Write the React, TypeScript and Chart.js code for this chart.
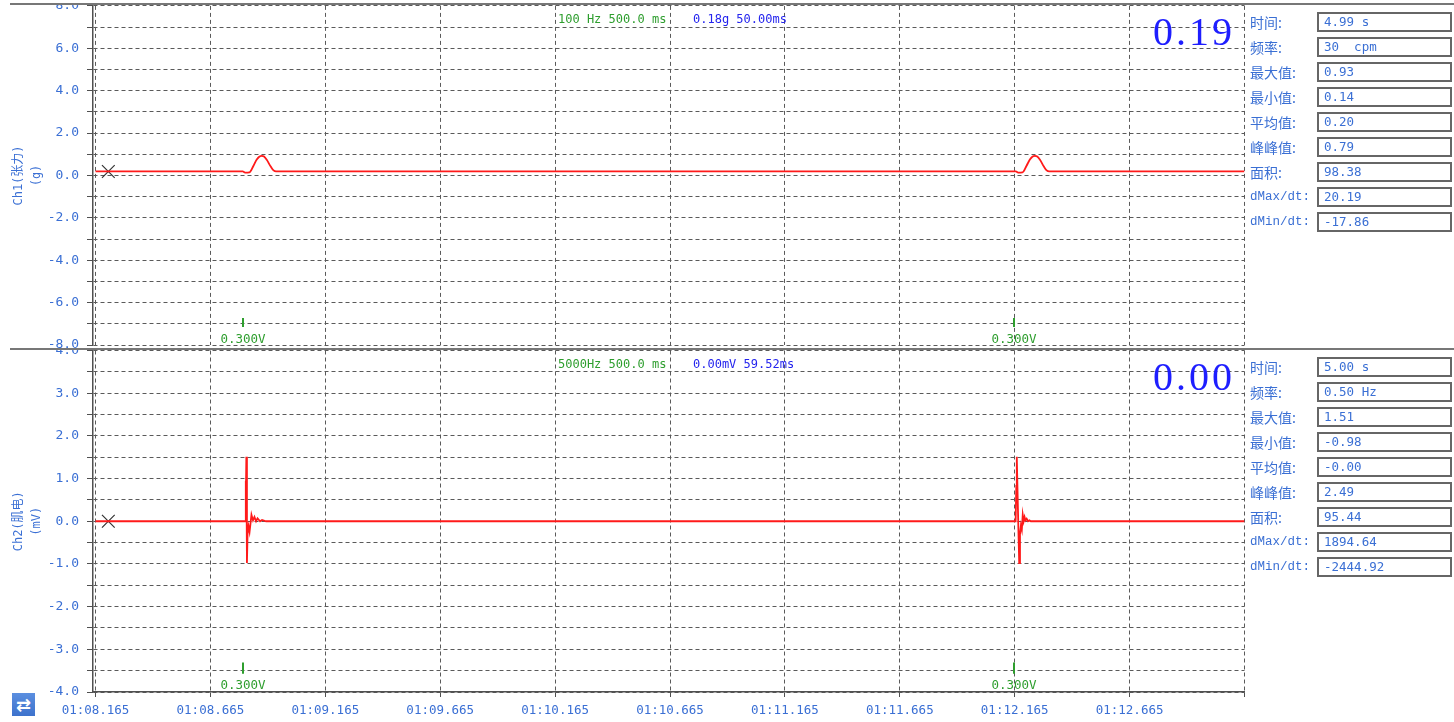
import React, { useEffect, useRef } from 'react';
import { Chart, registerables } from 'chart.js';

Chart.register(...registerables);

// ---------- data ----------
const xTickValues = [68.165, 68.665, 69.165, 69.665, 70.165, 70.665, 71.165, 71.665, 72.165, 72.665, 73.165];
const xTickLabels = ['01:08.165', '01:08.665', '01:09.165', '01:09.665', '01:10.165', '01:10.665', '01:11.165', '01:11.665', '01:12.165', '01:12.665', ''];
const X_MIN = 68.154;
const X_MAX = 73.165;

const ch1Times = [
  68.165, 68.8057, 68.8157, 68.8344, 68.8518, 68.8666, 68.8788, 68.8884, 68.8984, 68.9101, 68.9275, 68.9397, 68.9506,
  72.17, 72.18, 72.199, 72.216, 72.231, 72.243, 72.253, 72.263, 72.275, 72.292, 72.304, 72.315, 73.165,
];
const ch1Values = [
  0.19, 0.19, 0.14, 0.15, 0.45, 0.75, 0.9, 0.93, 0.9, 0.74, 0.42, 0.24, 0.19,
  0.19, 0.14, 0.15, 0.45, 0.75, 0.9, 0.93, 0.9, 0.74, 0.42, 0.24, 0.19, 0.19,
];

const ch2Times = [
  68.165, 68.8165, 68.8183, 68.8196, 68.8213, 68.8239, 68.8266, 68.8309, 68.8353, 68.8436, 68.8503, 68.8566, 68.8636, 68.8701, 68.881, 68.8897, 68.9071,
  72.169, 72.172, 72.1735, 72.1746, 72.179, 72.1846, 72.188, 72.192, 72.196, 72.2, 72.204, 72.208, 72.212, 72.217, 72.223, 72.229, 72.235, 73.165,
];
const ch2Values = [
  0, 0, 0.95, 0.5, 1.51, -0.98, -0.3, -0.12, -0.25, 0.15, 0.02, 0.1, 0.0, 0.07, 0.0, 0.03, 0,
  0, 0.85, 0.45, 1.51, 0.3, -0.98, -0.3, -0.1, -0.2, 0.15, 0.0, 0.1, 0.02, 0.06, 0.0, 0.02, 0, 0,
];

const ch1YTickValues = [8, 7, 6, 5, 4, 3, 2, 1, 0, -1, -2, -3, -4, -5, -6, -7, -8];
const ch1YTickLabels = ['8.0', '', '6.0', '', '4.0', '', '2.0', '', '0.0', '', '-2.0', '', '-4.0', '', '-6.0', '', '-8.0'];
const ch2YTickValues = [4, 3.5, 3, 2.5, 2, 1.5, 1, 0.5, 0, -0.5, -1, -1.5, -2, -2.5, -3, -3.5, -4];
const ch2YTickLabels = ['4.0', '', '3.0', '', '2.0', '', '1.0', '', '0.0', '', '-1.0', '', '-2.0', '', '-3.0', '', '-4.0'];

const cursorTimes = [68.2207];
const ch1CursorValues = [0.19];
const ch2CursorValues = [0];

const markerTimes = [68.8083, 72.1628];
const markerLabel = '0.300V';

const statLabels = ['时间:', '频率:', '最大值:', '最小值:', '平均值:', '峰峰值:', '面积:', 'dMax/dt:', 'dMin/dt:'];
const ch1StatValues = ['4.99 s', '30  cpm', '0.93', '0.14', '0.20', '0.79', '98.38', '20.19', '-17.86'];
const ch2StatValues = ['5.00 s', '0.50 Hz', '1.51', '-0.98', '-0.00', '2.49', '95.44', '1894.64', '-2444.92'];

const ch1HeaderLeft = '100 Hz 500.0 ms';
const ch1HeaderRight = '0.18g 50.00ms';
const ch2HeaderLeft = '5000Hz 500.0 ms';
const ch2HeaderRight = '0.00mV 59.52ms';
const ch1BigValue = '0.19';
const ch2BigValue = '0.00';

// ---------- styles ----------
const BLUE = '#3a6fd4';
const GREEN = '#2e9e2e';
const GRID = '#5a5a5a';
const AXIS = '#505050';
const RED = '#ff1a1a';
const MONO = '"DejaVu Sans Mono", "Noto Sans CJK SC", monospace';

type ChannelProps = {
  times: number[];
  values: number[];
  yTickValues: number[];
  yTickLabels: string[];
  yMin: number;
  yMax: number;
  title: string[];
  cursorValues: number[];
  markerBar: [number, number];
  markerTextValue: number;
  showXLabels: boolean;
  smooth: boolean;
  canvasTop: number;
  canvasWidth: number;
  canvasHeight: number;
  padTop: number;
  padBottom: number;
  xAxisHeight: number;
};

function ChannelChart(p: ChannelProps) {
  const ref = useRef<HTMLCanvasElement | null>(null);
  useEffect(() => {
    if (!ref.current) return;
    const markerPlugin = {
      id: 'markers',
      afterDatasetsDraw(chart: any) {
        const { ctx, scales } = chart;
        const xs = scales.x;
        const ys = scales.y;
        ctx.save();
        markerTimes.forEach((t) => {
          const px = Math.round(xs.getPixelForValue(t));
          ctx.strokeStyle = GREEN;
          ctx.lineWidth = 2;
          ctx.beginPath();
          ctx.moveTo(px, ys.getPixelForValue(p.markerBar[0]));
          ctx.lineTo(px, ys.getPixelForValue(p.markerBar[1]));
          ctx.stroke();
          ctx.fillStyle = GREEN;
          ctx.font = '12.5px ' + MONO;
          ctx.textAlign = 'center';
          ctx.textBaseline = 'middle';
          ctx.fillText(markerLabel, px, ys.getPixelForValue(p.markerTextValue));
        });
        ctx.restore();
      },
    };
    const chart = new Chart(ref.current, {
      type: 'line',
      data: {
        datasets: [
          {
            data: p.times.map((t, i) => ({ x: t, y: p.values[i] })),
            borderColor: RED,
            borderWidth: 1.8,
            pointRadius: 0,
            fill: false,
            tension: 0,
            cubicInterpolationMode: p.smooth ? 'monotone' : 'default',
          },
          {
            data: cursorTimes.map((t, i) => ({ x: t, y: p.cursorValues[i] })),
            showLine: false,
            pointStyle: 'crossRot',
            pointRadius: 9,
            borderColor: '#333333',
            borderWidth: 1.2,
            backgroundColor: 'rgba(0,0,0,0)',
          },
        ],
      } as any,
      options: {
        responsive: false,
        animation: false,
        devicePixelRatio: 1,
        events: [],
        layout: { padding: { left: 0, right: p.canvasWidth - 1244.5, top: p.padTop, bottom: p.padBottom } },
        plugins: { legend: { display: false }, tooltip: { enabled: false } },
        scales: {
          x: {
            type: 'linear',
            min: X_MIN,
            max: X_MAX,
            afterBuildTicks: (s: any) => {
              s.ticks = xTickValues.map((v) => ({ value: v }));
            },
            afterFit: (s: any) => {
              s.height = p.xAxisHeight;
            },
            ticks: {
              display: p.showXLabels,
              callback: (_v: any, i: number) => xTickLabels[i] ?? '',
              color: BLUE,
              font: { family: MONO, size: 12.5 },
              padding: 6,
              maxRotation: 0,
              minRotation: 0,
              autoSkip: false,
            },
            grid: {
              color: GRID,
              lineWidth: 1,
              drawTicks: p.showXLabels,
              tickLength: 5,
              tickColor: AXIS,
              tickWidth: 1,
              tickBorderDash: [],
            },
            border: { display: p.showXLabels, color: AXIS, width: 1.5, dash: [4, 3] },
          },
          y: {
            type: 'linear',
            min: p.yMin,
            max: p.yMax,
            afterBuildTicks: (s: any) => {
              s.ticks = p.yTickValues.map((v) => ({ value: v }));
            },
            afterFit: (s: any) => {
              s.width = 93;
            },
            ticks: {
              callback: (_v: any, i: number) => p.yTickLabels[i] ?? '',
              color: BLUE,
              font: { family: MONO, size: 13 },
              padding: 8,
              autoSkip: false,
            },
            grid: {
              color: GRID,
              lineWidth: 1,
              tickLength: 6,
              tickColor: AXIS,
              tickWidth: 1,
              tickBorderDash: [],
            },
            border: { color: AXIS, width: 1.5, dash: [4, 3] },
            title: {
              display: true,
              text: p.title,
              color: BLUE,
              font: { family: MONO, size: 12, lineHeight: '18px' },
              padding: { top: 10, bottom: 0 },
            },
          },
        },
      } as any,
      plugins: [markerPlugin as any],
    });
    return () => chart.destroy();
  }, []);
  return (
    <canvas
      ref={ref}
      width={p.canvasWidth}
      height={p.canvasHeight}
      style={{ position: 'absolute', left: 0, top: p.canvasTop, width: p.canvasWidth, height: p.canvasHeight }}
    />
  );
}

function StatsPanel({ top, values }: { top: number; values: string[] }) {
  return (
    <>
      {statLabels.map((label, i) => {
        const isLatin = label.startsWith('d');
        return (
          <div key={i} style={{ position: 'absolute', left: 0, top: top + i * 25, width: 1454, height: 20 }}>
            <div
              style={{
                position: 'absolute',
                left: 1250,
                top: 0,
                height: 20,
                lineHeight: '20px',
                fontFamily: isLatin ? '"Liberation Mono", monospace' : '"Noto Sans CJK SC", sans-serif',
                fontSize: isLatin ? 12.5 : 14,
                color: BLUE,
                whiteSpace: 'pre',
              }}
            >
              {label}
            </div>
            <div
              style={{
                position: 'absolute',
                left: 1317,
                top: 0,
                width: 135,
                height: 20,
                boxSizing: 'border-box',
                border: '2px solid #666',
                background: '#fff',
                paddingLeft: 5,
                lineHeight: '16px',
                fontFamily: MONO,
                fontSize: 12.5,
                color: BLUE,
                whiteSpace: 'pre',
              }}
            >
              {values[i]}
            </div>
          </div>
        );
      })}
    </>
  );
}

export default function App() {
  const headerStyle = (left: number, top: number, color: string): React.CSSProperties => ({
    position: 'absolute',
    left,
    top,
    fontFamily: MONO,
    fontSize: 12,
    lineHeight: '14px',
    color,
    whiteSpace: 'pre',
  });
  const bigStyle = (top: number): React.CSSProperties => ({
    position: 'absolute',
    left: 1153,
    top,
    fontFamily: '"Liberation Serif", serif',
    fontSize: 40,
    lineHeight: '40px',
    letterSpacing: 3,
    color: '#1e1eff',
    whiteSpace: 'pre',
  });
  return (
    <div style={{ position: 'absolute', left: 0, top: 0, width: 1454, height: 722, overflow: 'hidden', background: '#fff' }}>
      {/* top channel */}
      <div style={{ position: 'absolute', left: 0, top: 4, width: 1454, height: 344, overflow: 'hidden' }}>
        <ChannelChart
          times={ch1Times}
          values={ch1Values}
          yTickValues={ch1YTickValues}
          yTickLabels={ch1YTickLabels}
          yMin={-8}
          yMax={8}
          title={['Ch1(张力)', '(g)']}
          cursorValues={ch1CursorValues}
          markerBar={[-6.72, -7.15]}
          markerTextValue={-7.75}
          showXLabels={false}
          smooth={true}
          canvasTop={-24}
          canvasWidth={1260}
          canvasHeight={390}
          padTop={25.9}
          padBottom={24.9}
          xAxisHeight={0}
        />
      </div>
      {/* bottom channel */}
      <div style={{ position: 'absolute', left: 0, top: 348.5, width: 1454, height: 373.5, overflow: 'hidden' }}>
        <ChannelChart
          times={ch2Times}
          values={ch2Values}
          yTickValues={ch2YTickValues}
          yTickLabels={ch2YTickLabels}
          yMin={-4}
          yMax={4}
          title={['Ch2(肌电)', '(mV)']}
          cursorValues={ch2CursorValues}
          markerBar={[-3.31, -3.57]}
          markerTextValue={-3.86}
          showXLabels={true}
          smooth={false}
          canvasTop={-18.5}
          canvasWidth={1260}
          canvasHeight={392}
          padTop={20.5}
          padBottom={0}
          xAxisHeight={30}
        />
      </div>

      {/* frame lines */}
      <div style={{ position: 'absolute', left: 10, top: 3, width: 1444, height: 2, background: '#777' }} />
      <div style={{ position: 'absolute', left: 10, top: 347.5, width: 1444, height: 2, background: '#777' }} />

      {/* headers */}
      <div style={headerStyle(558, 12, GREEN)}>{ch1HeaderLeft}</div>
      <div style={headerStyle(693, 12, '#2424ee')}>{ch1HeaderRight}</div>
      <div style={headerStyle(558, 357, GREEN)}>{ch2HeaderLeft}</div>
      <div style={headerStyle(693, 357, '#2424ee')}>{ch2HeaderRight}</div>

      {/* big values */}
      <div style={bigStyle(11.5)}>{ch1BigValue}</div>
      <div style={bigStyle(356.5)}>{ch2BigValue}</div>

      {/* stats */}
      <StatsPanel top={11.7} values={ch1StatValues} />
      <StatsPanel top={356.7} values={ch2StatValues} />

      {/* swap icon */}
      <div
        style={{
          position: 'absolute',
          left: 12,
          top: 693,
          width: 23,
          height: 23,
          background: 'linear-gradient(#5b8fe0, #3d72cc)',
          color: '#fff',
          fontFamily: '"DejaVu Sans", sans-serif',
          fontSize: 18,
          lineHeight: '23px',
          textAlign: 'center',
          fontWeight: 'bold',
        }}
      >
        ⇄
      </div>
    </div>
  );
}
